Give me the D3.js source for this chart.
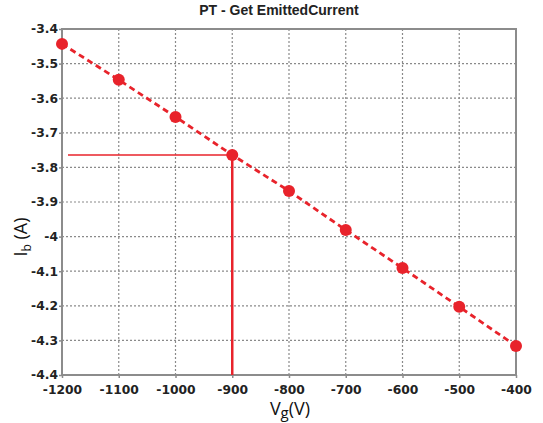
<!DOCTYPE html>
<html>
<head>
<meta charset="utf-8">
<script src="https://cdn.jsdelivr.net/npm/d3@7"></script>
<style>
body{margin:0;background:#fff;}
text{font-family:"DejaVu Sans",sans-serif;}
</style>
</head>
<body>
<svg id="chart" width="543" height="423"></svg>
<script>
// data
var vg=[-1200,-1100,-1000,-900,-800,-700,-600,-500,-400];
var ib=[-3.443,-3.547,-3.654,-3.764,-3.868,-3.981,-4.091,-4.203,-4.316];
var xTicks=[-1200,-1100,-1000,-900,-800,-700,-600,-500,-400];
var yTicks=[-3.4,-3.5,-3.6,-3.7,-3.8,-3.9,-4,-4.1,-4.2,-4.3,-4.4];
var markV=[-900];
var markI=[-3.764];

var margin={top:29,left:62,right:27,bottom:48};
var W=543,H=423;
var svg=d3.select("#chart");

var x=d3.scaleLinear().domain([-1200,-400]).range([margin.left,W-margin.right]);
var y=d3.scaleLinear().domain([-3.4,-4.4]).range([margin.top,H-margin.bottom]);
var red="#e8232b";

// grid
svg.append("g").selectAll("line.vg").data(xTicks.slice(1,-1)).enter().append("line")
    .attr("x1",function(d){return x(d)}).attr("x2",function(d){return x(d)})
    .attr("y1",y(-3.4)).attr("y2",y(-4.4))
    .attr("stroke","#8a8a8a").attr("stroke-width",1.2).attr("stroke-dasharray","2,2");
svg.append("g").selectAll("line.hg").data(yTicks.slice(1,-1)).enter().append("line")
    .attr("y1",function(d){return y(d)}).attr("y2",function(d){return y(d)})
    .attr("x1",x(-1200)).attr("x2",x(-400))
    .attr("stroke","#8a8a8a").attr("stroke-width",1.2).attr("stroke-dasharray","2,2");

// frame
svg.append("rect").attr("x",x(-1200)).attr("y",y(-3.4))
    .attr("width",x(-400)-x(-1200)).attr("height",y(-4.4)-y(-3.4))
    .attr("fill","none").attr("stroke","#8c8c8c").attr("stroke-width",2);

// axes (hyphen instead of unicode minus, like the original)
var fmt=function(d){return String(+(+d).toFixed(1)).replace("\u2212","-")};
var xAxis=svg.append("g").attr("transform","translate(0,"+y(-4.4)+")")
    .call(d3.axisBottom(x).tickValues(xTicks).tickSize(3).tickFormat(fmt));
var yAxis=svg.append("g").attr("transform","translate("+x(-1200)+",0)")
    .call(d3.axisLeft(y).tickValues(yTicks).tickSize(3).tickFormat(fmt));
[xAxis,yAxis].forEach(function(a){
    a.select(".domain").remove();
    a.selectAll(".tick line").attr("stroke","#8c8c8c").attr("stroke-width",1.5);
    a.selectAll(".tick text").attr("fill","#222").style("font-size","12.3px").style("font-weight","bold")
        .style("font-family","'DejaVu Sans',Verdana,sans-serif");
});
xAxis.selectAll(".tick text").attr("y",0).attr("dy",0).attr("transform","translate(0,19)");
yAxis.selectAll(".tick text").attr("x",-4);

// marker lines
svg.append("line").attr("x1",x(-1200)+6).attr("x2",x(markV[0]))
    .attr("y1",y(markI[0])).attr("y2",y(markI[0]))
    .attr("stroke",red).attr("stroke-width",1.5);
svg.append("line").attr("x1",x(markV[0])).attr("x2",x(markV[0]))
    .attr("y1",y(markI[0])).attr("y2",y(-4.4))
    .attr("stroke",red).attr("stroke-width",2.5);

// series
var pts=vg.map(function(v,i){return [v,ib[i]]});
svg.append("path").datum(pts)
    .attr("d",d3.line().x(function(d){return x(d[0])}).y(function(d){return y(d[1])}))
    .attr("fill","none").attr("stroke",red).attr("stroke-width",2.8).attr("stroke-dasharray","6,4");
svg.append("g").selectAll("circle").data(pts).enter().append("circle")
    .attr("cx",function(d){return x(d[0])}).attr("cy",function(d){return y(d[1])})
    .attr("r",6).attr("fill",red);

// title and labels
svg.append("text").attr("x",279).attr("y",15).attr("text-anchor","middle")
    .style("font-size","14px").style("font-weight","bold").attr("fill","#222")
    .style("font-family","'Liberation Sans',Arial,sans-serif")
    .text("PT - Get EmittedCurrent");

var xl=svg.append("text").attr("x",290).attr("y",415).attr("text-anchor","middle")
    .style("font-size","18px").attr("fill","#111").style("font-family","'Open Sans',sans-serif");
xl.append("tspan").text("V");
xl.append("tspan").attr("dy",3).style("font-size","15px").text("g");
xl.append("tspan").attr("dy",-3).text("(V)");

var yl=svg.append("text").attr("transform","translate(27,237) rotate(-90)").attr("text-anchor","middle")
    .style("font-size","18px").attr("fill","#111").style("font-family","'Open Sans',sans-serif");
yl.append("tspan").text("I");
yl.append("tspan").attr("dy",4).style("font-size","12px").text("b");
yl.append("tspan").attr("dy",-4).text(" (A)");
</script>
</body>
</html>
